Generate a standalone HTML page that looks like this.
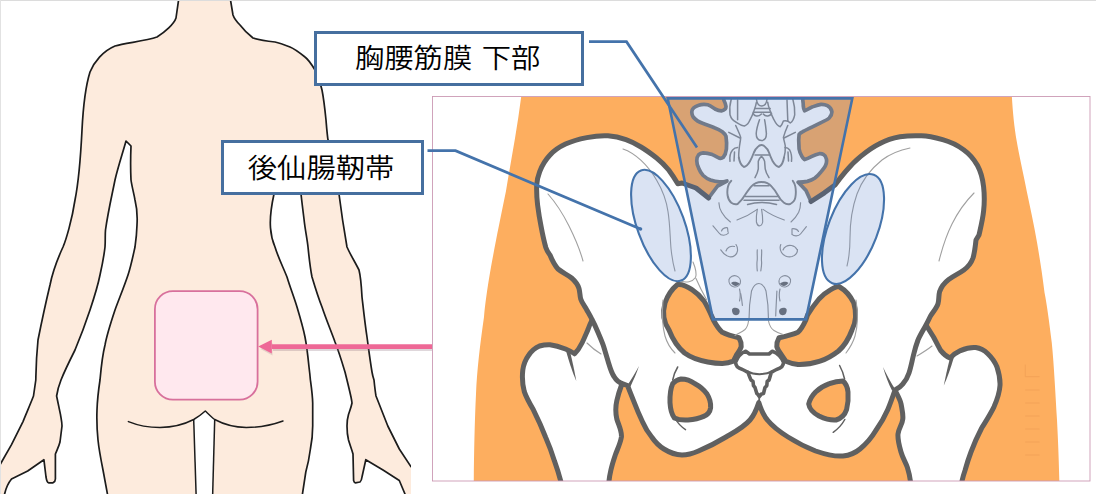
<!DOCTYPE html>
<html lang="ja">
<head>
<meta charset="utf-8">
<title>胸腰筋膜 下部・後仙腸靭帯</title>
<style>
html,body{margin:0;padding:0;background:#fff;}
body{width:1096px;height:494px;overflow:hidden;position:relative;font-family:"Liberation Sans","Noto Sans CJK JP",sans-serif;}
svg{position:absolute;left:0;top:0;display:block;}
.label{position:absolute;box-sizing:border-box;border:3px solid #466f9f;background:#fff;color:#000;font-size:29.3px;line-height:1;white-space:nowrap;}
.label span{position:absolute;display:block;font-weight:350;transform:scaleY(0.92);transform-origin:50% 100%;}
#lab1{left:313.7px;top:31px;width:270.5px;height:54.8px;}
#lab1 span{left:38.3px;top:8.7px;word-spacing:1.5px;}
#lab2{left:220.7px;top:140px;width:203.3px;height:55px;}
#lab2 span{left:24.1px;top:10.3px;}
</style>
</head>
<body>
<svg width="1096" height="494" viewBox="0 0 1096 494">
<defs>
<clipPath id="bodyclip"><rect x="0" y="0" width="411" height="494"/></clipPath>
<clipPath id="frameclip"><rect x="433" y="97" width="657" height="384"/></clipPath>
</defs>

<!-- ============ LEFT: body back view ============ -->
<g id="body" clip-path="url(#bodyclip)">
<path id="silhouette" fill="#fdebdd" stroke="#1c1c1c" stroke-width="1.7" stroke-linejoin="round" d="
M179,-3 L176,18
C174,24 165,32 157,37
C145,41 125,43 115,46
C103,51 94,62 90,72
C85,88 83,110 82,130
C81,150 79,180 75,200
C72,220 66,240 63,247
C57,260 52,275 50,285
C44,310 40,330 38,340
C36,360 36,372 35.8,380
L33.5,396
C30,405 26,414 23,421.6
L11.5,444.7 L1,463 L-3,470
L-3,497 L4,497 L4.6,494
C6,488 9,482 11.5,479
L27.7,471 L43.9,459.7
L46,477 C46.5,480 47.5,482.5 48.5,482.8
L53,482.8 C54.5,482 55.4,480.5 55.4,479
L55.4,454 C57,450 59,446 60,442
L62,426 C62,422 61,418 60.5,414.6
L56.6,396 C57.5,390 59,385 61,380
C65,370 70,360 75,350
C80,338 86,322 90,310
C94,298 98,285 100,275
C102,266 104,256 105,247
C105.5,240 105,235 105.5,230
C108,212 112,195 115,180
C118,167 123,152 126,141
L131,146
C130.5,158 130.5,170 131,180
C132,187 134,194 135,200
C137,208 137.5,217 137,225
C136.8,232 136,240 135,247
C133,256 131,266 128,275
C124,287 119,299 115,310
C111,322 107,334 105,345
C102,357 101,369 100,380
C98.5,390 97.3,400 97,410
C96.6,420 97,430 98,440
C99,450 101,460 103,470
L108,497
L302,497 L305.8,472
C308,464 309.5,456 310.4,449
C312,441 312.7,434 312.7,426
L312.7,403
C312.5,395 311.5,388 310.4,380
C310,375 309.5,371 309,367
C308,357 307,347 305,337
C303,327 300,317 297,307
C294,297 290,287 287,277
C283,267 278,257 275,247
C272,240 271,235 270.5,228
C270,222 270.5,210 274,194
C276,180 277,165 277,150 L282,146 C288,160 296,178 301,194
C302,203 303,211 304,219
C305,229 307,238 308,247
C309,257 310,267 312,277
C315,287 318,297 322,307
C326,319 331,331 335,342
C339,352 342,362 345,372
C347,380 349,388 351,397
C351.8,401 352,403 352,403
C351,408 349.5,411 348.5,414.6
C347.5,418 347,422 347,426
C347,431 347.5,436 348.5,440
C350,445 352,450 353,454
L353.6,480.5 C354,482 354.8,482.8 355.4,482.8
L360,482 C361,481 361.8,479 362,477
L365.8,459.7 L383,470 L399.3,480.5 L405,494 L405,497
L420,497 L420,470 L410.9,466.6
L399.3,449 L387.8,426 L376,396
C375,390 374.5,385 374,380
C373,377 372.5,375 372,372
C370,360 368.5,348 367,337
C365,324 363.5,310 362,297
C361.5,288 361,278 359,270
C355,262 350,254 347,247
C344,230 341,210 339,194
C336,180 332,160 328,140
C327,133 326.5,126 326,120
C325,110 324,100 322,90
C320,82 318,76 315,70
C312,65 309,60 305,57
C300,53 295,49 290,47
C285,45 280,43 275,42
C267,41 260,40 253,38
C248,34 243,29 240,25
C237,22 234,18 233,15
L230,-3 Z"/>
<!-- gluteal folds and leg lines -->
<path fill="#fff" stroke="none" d="M205.3,411 L214.7,419.5 L212.6,497 L196.2,497 L193.7,419.5 Z"/>
<path fill="none" stroke="#1c1c1c" stroke-width="1.5" stroke-linecap="round" stroke-linejoin="round" d="M128.4,421.6 C138,425.5 149,427.5 160,427.5 C172,427.3 184,424.5 193.7,419.5 C198,417 202,414 205.3,411 C208.5,414 211.5,417 214.7,419.5 C224,424.5 235,427.3 246.3,427.5 C259,427.5 272,425 283,421"/>
<path fill="none" stroke="#1c1c1c" stroke-width="1.5" d="M193.7,419.5 L196.2,497"/>
<path fill="none" stroke="#1c1c1c" stroke-width="1.5" d="M214.7,419.5 L212.6,497"/>
<!-- pink square -->
<rect x="154.9" y="291.2" width="102.7" height="108.5" rx="18" ry="18" fill="#ffe8ee" stroke="#d8709c" stroke-width="1.8"/>
</g>

<!-- pink arrow -->
<path d="M432,349 L273,349" stroke="rgba(140,110,125,0.28)" stroke-width="4" fill="none"/>
<path d="M260.5,349 L272.5,343 L272.5,355.5 Z" fill="rgba(140,110,125,0.22)"/>
<path d="M432,346.6 L272,346.6" stroke="#ee6896" stroke-width="4.6" fill="none"/>
<path d="M258.2,346.6 L271.8,339.8 L271.8,353.4 Z" fill="#ee6896"/>

<!-- ============ RIGHT: pelvis frame ============ -->
<rect x="433" y="97" width="657" height="384" fill="#fff"/>
<g id="pelvis" clip-path="url(#frameclip)">
<!-- orange trunk -->
<path id="trunk" fill="#fdae5f" d="M522,90 C518,125 511,160 506,191 C500,220 495,245 491,267 C487,290 485,305 484,317 C480,345 477,370 476,394 C474.5,425 474,455 473.7,490 L1059.5,490 C1059,460 1058,440 1057,420 C1055.5,395 1054,365 1051.8,343 C1049,320 1047,305 1044.5,292.4 C1042,272 1039.5,257 1036.9,241.8 C1034,225 1030,207 1026.7,191 C1023,172 1019,155 1016.6,140.6 C1014,125 1012.5,110 1011.5,90 Z"/>

<!-- femurs -->
<path id="femurL" fill="#fff" stroke="#606060" stroke-width="5" stroke-linejoin="round" d="
M610,340 L592,320 C590.5,323 589,326.5 588,329.5 C586,334 584,339 582,343
C580,347 577.5,351 574.6,353.8
C572,352 569,350.5 565.5,349
C560.5,347 555,345.3 550,344.7
C546.5,344.5 543,345 539.5,346
C535,348 531.5,351 528.8,355
C525.5,359.5 523.5,364.5 522.8,370
C522,377 522.5,385 524.3,391.6
C526.5,398 530,404 533.4,409.8
C538,419 542,428 545.5,437
C549,445 552,453 554.6,461.4
C557,468 559,474.5 560.7,481 L562,495 L609,495 L609,481
C609.3,477.5 610,474 610.8,470.5
C612,465 613.6,460 615.3,455
C617.5,449 620.5,443 621.4,437
C622,431 618.5,425 616.8,419
C615.5,413 615.5,406.5 616.8,400.7
C618,395.5 619.5,390.5 621.4,385.5 L640,370 Z"/>
<path id="femurR" fill="#fff" stroke="#606060" stroke-width="5" stroke-linejoin="round" d="
M905,345 L926,325 C928.5,329 931,333 933.5,337
C936,341.5 938.3,346.5 940.8,350.6
C943.5,354 946.5,356.5 950,358
C953,355 956.5,352.5 960.5,350.6
C965.5,348.5 970.5,347.2 975.7,347.6
C980,348.2 984.5,350.5 987.8,353.7
C991.8,357.5 995,362 997,367
C999,373 1000.3,379 1000,385.5
C999.5,393 997,400 994,406.8
C990.5,414 986,421 981.7,428
C977.5,436 974,444 971,452
C968.7,458 966.7,464.5 965,470.5
C963.8,474 962.8,477.5 962,481 L962,495 L910.4,495 L910.4,481
C909.8,476.5 908.8,472 907.4,467.5
C905.5,462 902.5,457.5 901,452
C899.3,446 897.5,440 898,434
C898.5,428.5 902.3,424.5 902.8,419
C903.3,414 901.8,408.5 901,403.7
C900,399 897,394.5 895,390 L880,372 Z"/>

<!-- hip bones + sacrum + lumbar spine (union) -->
<path id="bonesfill" fill="#fff" stroke="none" d="M723.3,88 L723.8,100
C724.6,101.6 725.5,104 726,106.5
C726,108.5 724.5,110.3 721.4,110.8
C719,110.8 717,110 715,109
C712.5,107.3 710.3,105.5 707.8,104.8
C704.8,104.2 701.5,104.3 698.7,105.3
C695,106.5 692,109 691.8,111.7
C691.7,113.8 692.3,115.5 693.2,117
C695.8,120.3 699.3,122.2 703.2,123.5
C707,125 711,126.3 715,128
C717.7,129 720,130.2 722.3,131.7
C724,133 725.5,134.5 726,136.3
L726.6,143 L726.4,149
C726,152.5 725,155.3 723.3,157.3
C722,158.3 720.8,158.5 719.6,158.2
C717,157 714.7,155.6 712.3,154.6
C709.3,153.5 706.2,152.8 703.2,152.8
C701.3,153 699.8,153.6 698.7,154.6
C697.3,156.3 696.7,158.5 696.8,161
C696.8,163.5 697.6,166 698.7,168.2
C699.8,171 701.3,173.5 703.2,175.5
C705.3,177.5 707.8,179 710.5,180
C713.5,181 716.5,181.7 719.6,181.9
C722,182 724.5,181.6 726.9,181
L717.6,186 L708.6,198
L696,188 L682,183 L677.8,183.7
C675,179 672,174.5 668.7,170
C665,165.5 661,161.5 656.6,158
C651.5,154 646.5,150.3 641,147
C636,144 631,141.5 626,139.7
C620,137.5 614,136.2 608,135.8
C601,135.4 594,136.2 586.8,137.6
C579.5,139 572,141 565.5,144
C559.5,146.8 554,150.5 550,155
C545.5,159.8 542,165.5 539.7,171.6
C538,176 537,180.5 536.7,185
C536.5,191.5 536.8,198.5 537.6,205
C538.5,212 539.6,219 541,226
C542.3,233 543.8,240.5 545.8,247.5
C546.8,250.5 548.3,253 550,255
C552,260 554.5,265 558,269
C562,272.5 567.5,274.5 571.6,278
C575,281 577.8,284.5 579,288.5
C580,292 579.8,295.5 580.7,299
C582,303 584.8,306.3 586.8,310
C588.5,313 590.5,316.3 592,319.5
C594,323.3 595.8,327 597.4,331
C599.5,336 601.8,341 603.5,346
C605,351 606.5,356 608,361
C609.7,366.5 611,372 614,376.5
C616,380 619.3,382.8 623,384
L627.5,385.5
C629.5,390.5 631.5,395.7 633.5,400.7
C636.3,408 639.3,415.2 642.6,422
C645,427.5 648,432.5 651.7,437
C655,441.8 659,446 663.9,449
C669.5,452.5 675.5,454.8 682,455
C687.8,455 693.3,453.3 698.5,451
C708,447 717.3,442.3 726,437
C734.5,432 743.5,427.5 750,420
C754.5,414.8 757,408 758.8,402.6
C760.5,408 763,415 767.4,420
C773,427 780.5,432.3 788,437
C796.8,442.5 806,447.3 815.6,451
C824.3,454 833.8,456.8 843,456
C849.3,455.3 855.3,453 860,449
C866,444 871.5,437.8 875.5,431
C880.3,424.3 884.5,417.3 887.7,409.8
C890.5,403.3 892.8,396.5 895,390
C898,388.5 900.7,386.8 902.8,384
C905.5,381 907.7,377 909,373
C911,367 912,361 913.5,355
C914.7,350 916.2,344.8 918,340
C920.3,334.8 923.3,330 926,325
C927.6,322 929,319 930.5,316
C933,312 936.5,308.3 938,303.7
C939.2,299.8 938.5,295.5 939.6,291.6
C941.3,286.8 944.8,282.5 948.7,279.5
C953.5,276 959,273.5 963.9,270
C968,267 971.3,262.8 973,258
C974.8,252.3 975.3,246 976,240
L979,235
C980.8,227 982.8,219 983.6,211
C984.5,203 984.5,194.8 983.6,186.8
C982.8,179.3 981,172 977.5,165.5
C974,159.3 969.5,154 963.9,150
C957.5,145.3 950.3,141.8 942.6,139.7
C935.8,137.8 928.5,136 921.4,135.8
C914.3,135.5 907,135.7 900,136.7
C892.8,137.9 885.5,140.5 879,144
C872.3,147.3 866.3,151.8 860.7,156.4
C855,161 850,166.3 845.5,171.6
C841.8,176 838.3,180.5 835,185 L824.4,192.8 L811,201.5
L806,190.5 L798.2,182.2
C801,182.3 804.3,182 807.3,181.4
C810,180.7 812.5,179.7 814.6,178.3
C817,176.5 819.2,174.3 821,171.9
C823,169.5 824.7,167.5 825.5,165.5
C826.5,163.3 826.8,161 826.4,159.1
C826,157 825,155.3 823.7,154.6
C822.3,153.8 820.8,153.5 819.2,153.7
C816.7,154.2 814.3,155.2 811.9,156.4
C809.5,157.6 807,158.8 804.6,159.6
C803.3,158.5 802.5,157.5 801.9,156.4
C800.5,154 799.5,151.5 799.1,149
L798.7,140 L799.1,134.4
C800,133.3 801.3,132.5 802.8,131.7
C805.8,130 808.9,128.6 811.9,127.1
C815,125.6 818,124.1 821,122.6
C824,121.3 827,120 829.2,118
C831,116.2 832,114 831.9,111.7
C831.6,109.3 829.8,107 827.4,105.7
C825.5,104.7 823.3,104.3 821,104.4
C818,104.8 815,106 811.9,107.1
C809.5,108.3 807,110 804.6,110.8
C803.8,109.5 803.4,107.8 803.3,106.2
C803.3,104.3 803.1,102.3 802.8,100.3 L802.5,88 Z"/>
<path id="spineLs" fill="none" stroke="#7c7c7c" stroke-width="3.7" stroke-linejoin="round" stroke-linecap="round" d="M723.3,88 L723.8,100
C724.6,101.6 725.5,104 726,106.5
C726,108.5 724.5,110.3 721.4,110.8
C719,110.8 717,110 715,109
C712.5,107.3 710.3,105.5 707.8,104.8
C704.8,104.2 701.5,104.3 698.7,105.3
C695,106.5 692,109 691.8,111.7
C691.7,113.8 692.3,115.5 693.2,117
C695.8,120.3 699.3,122.2 703.2,123.5
C707,125 711,126.3 715,128
C717.7,129 720,130.2 722.3,131.7
C724,133 725.5,134.5 726,136.3
L726.6,143 L726.4,149
C726,152.5 725,155.3 723.3,157.3
C722,158.3 720.8,158.5 719.6,158.2
C717,157 714.7,155.6 712.3,154.6
C709.3,153.5 706.2,152.8 703.2,152.8
C701.3,153 699.8,153.6 698.7,154.6
C697.3,156.3 696.7,158.5 696.8,161
C696.8,163.5 697.6,166 698.7,168.2
C699.8,171 701.3,173.5 703.2,175.5
C705.3,177.5 707.8,179 710.5,180
C713.5,181 716.5,181.7 719.6,181.9
C722,182 724.5,181.6 726.9,181
L717.6,186 L708.6,198"/>
<path id="spineRs" fill="none" stroke="#7c7c7c" stroke-width="3.7" stroke-linejoin="round" stroke-linecap="round" d="M811,201.5 L806,190.5 L798.2,182.2
C801,182.3 804.3,182 807.3,181.4
C810,180.7 812.5,179.7 814.6,178.3
C817,176.5 819.2,174.3 821,171.9
C823,169.5 824.7,167.5 825.5,165.5
C826.5,163.3 826.8,161 826.4,159.1
C826,157 825,155.3 823.7,154.6
C822.3,153.8 820.8,153.5 819.2,153.7
C816.7,154.2 814.3,155.2 811.9,156.4
C809.5,157.6 807,158.8 804.6,159.6
C803.3,158.5 802.5,157.5 801.9,156.4
C800.5,154 799.5,151.5 799.1,149
L798.7,140 L799.1,134.4
C800,133.3 801.3,132.5 802.8,131.7
C805.8,130 808.9,128.6 811.9,127.1
C815,125.6 818,124.1 821,122.6
C824,121.3 827,120 829.2,118
C831,116.2 832,114 831.9,111.7
C831.6,109.3 829.8,107 827.4,105.7
C825.5,104.7 823.3,104.3 821,104.4
C818,104.8 815,106 811.9,107.1
C809.5,108.3 807,110 804.6,110.8
C803.8,109.5 803.4,107.8 803.3,106.2
C803.3,104.3 803.1,102.3 802.8,100.3 L802.5,88"/>
<path id="hipstroke" fill="none" stroke="#606060" stroke-width="5" stroke-linejoin="round" stroke-linecap="round" d="M708.6,198 L696,188 L682,183 L677.8,183.7
C675,179 672,174.5 668.7,170
C665,165.5 661,161.5 656.6,158
C651.5,154 646.5,150.3 641,147
C636,144 631,141.5 626,139.7
C620,137.5 614,136.2 608,135.8
C601,135.4 594,136.2 586.8,137.6
C579.5,139 572,141 565.5,144
C559.5,146.8 554,150.5 550,155
C545.5,159.8 542,165.5 539.7,171.6
C538,176 537,180.5 536.7,185
C536.5,191.5 536.8,198.5 537.6,205
C538.5,212 539.6,219 541,226
C542.3,233 543.8,240.5 545.8,247.5
C546.8,250.5 548.3,253 550,255
C552,260 554.5,265 558,269
C562,272.5 567.5,274.5 571.6,278
C575,281 577.8,284.5 579,288.5
C580,292 579.8,295.5 580.7,299
C582,303 584.8,306.3 586.8,310
C588.5,313 590.5,316.3 592,319.5
C594,323.3 595.8,327 597.4,331
C599.5,336 601.8,341 603.5,346
C605,351 606.5,356 608,361
C609.7,366.5 611,372 614,376.5
C616,380 619.3,382.8 623,384
L627.5,385.5
C629.5,390.5 631.5,395.7 633.5,400.7
C636.3,408 639.3,415.2 642.6,422
C645,427.5 648,432.5 651.7,437
C655,441.8 659,446 663.9,449
C669.5,452.5 675.5,454.8 682,455
C687.8,455 693.3,453.3 698.5,451
C708,447 717.3,442.3 726,437
C734.5,432 743.5,427.5 750,420
C754.5,414.8 757,408 758.8,402.6
C760.5,408 763,415 767.4,420
C773,427 780.5,432.3 788,437
C796.8,442.5 806,447.3 815.6,451
C824.3,454 833.8,456.8 843,456
C849.3,455.3 855.3,453 860,449
C866,444 871.5,437.8 875.5,431
C880.3,424.3 884.5,417.3 887.7,409.8
C890.5,403.3 892.8,396.5 895,390
C898,388.5 900.7,386.8 902.8,384
C905.5,381 907.7,377 909,373
C911,367 912,361 913.5,355
C914.7,350 916.2,344.8 918,340
C920.3,334.8 923.3,330 926,325
C927.6,322 929,319 930.5,316
C933,312 936.5,308.3 938,303.7
C939.2,299.8 938.5,295.5 939.6,291.6
C941.3,286.8 944.8,282.5 948.7,279.5
C953.5,276 959,273.5 963.9,270
C968,267 971.3,262.8 973,258
C974.8,252.3 975.3,246 976,240
L979,235
C980.8,227 982.8,219 983.6,211
C984.5,203 984.5,194.8 983.6,186.8
C982.8,179.3 981,172 977.5,165.5
C974,159.3 969.5,154 963.9,150
C957.5,145.3 950.3,141.8 942.6,139.7
C935.8,137.8 928.5,136 921.4,135.8
C914.3,135.5 907,135.7 900,136.7
C892.8,137.9 885.5,140.5 879,144
C872.3,147.3 866.3,151.8 860.7,156.4
C855,161 850,166.3 845.5,171.6
C841.8,176 838.3,180.5 835,185 L824.4,192.8 L811,201.5"/>

<!-- pelvic inlet / sciatic openings showing orange -->
<path id="holeL" fill="#fdae5f" stroke="#606060" stroke-width="5" stroke-linejoin="round" d="
M677.5,284.5
C672,289 667.5,295.5 665,303
C662.5,312 663.5,322 669,330
C672.5,339 678,347.5 684.6,353
C691.5,358 699.5,360.5 707.7,362
C713,363 718,363.5 722.3,363.5
C726,363.3 730,362.5 733.4,361.2
L736.7,354.5
C738.5,352 740.5,349.5 741.2,346.7
C741.5,343.5 740.5,340.5 739,337.8
C733.5,336.5 727.5,335 722.3,332.3
C718.5,329 715.8,324.5 713.4,320
C710.5,313.5 707.5,306.5 704,301
C700.5,296.5 696.5,292.5 692,289.6
C687.5,286.5 682,283.8 677.5,284.5 Z"/>
<path id="holeR" fill="#fdae5f" stroke="#606060" stroke-width="5" stroke-linejoin="round" d="
M839,286.5
C845,290 850.5,296 853.8,303
C856.5,312 856,322 852,330
C849,338 844.5,345.8 838.5,351
C831.5,356.5 825,359.5 820,361.2
C813,363.5 805,364.8 798,364.6
C793.5,364 789.5,362.8 785.7,361.2
L781.3,354.5
C779.3,352 777.5,349.5 776.8,346.7
C776.5,343.5 777.5,340.5 779,337.8
C785,336.5 792,335 798,332.3
C801.5,329 803.8,324.5 805.8,320
C806.5,318.3 807,316.3 807.7,314.6
C811,309.3 814.8,304 819,299
C822.5,295.3 826.5,292 830.8,289.6
C833.5,288 836.5,286.3 839,286.5 Z"/>
<!-- obturator foramina -->
<path id="obtL" fill="#fdae5f" stroke="#606060" stroke-width="5" stroke-linejoin="round" d="
M672.7,383.7 C675,381 678,379.5 681,379 C686,379 691,380.8 695,383.7
C700,386.3 704,389.8 707,394 C709.5,398 711,403 710.6,407.8
C710,411.8 707.5,414.8 703.7,416.4 C698.8,418.5 693.3,419.5 688,420
C683.5,420.3 678.5,420 674.4,418 C671.5,414 670.3,408.3 670,402.6
C669.8,396 670.3,389 672.7,383.7 Z"/>
<path id="obtR" fill="#fdae5f" stroke="#606060" stroke-width="5" stroke-linejoin="round" d="
M808.7,404 C809.8,399.5 812.3,395.3 815.6,392 C819.5,388.3 824.3,385.5 829.4,383.7
C833.8,382 838.5,381 843,381 C846,383.5 847.5,387.5 848,392
C848.5,398 848,404 846.6,409.5 C845,414.5 841,418.5 836,420
C830.3,420.5 824.3,418.5 819,416 C814.3,413.5 809.5,409.5 808.7,404 Z"/>

<!-- coccyx -->
<path id="coccyx" fill="#fff" stroke="#606060" stroke-width="3.6" stroke-linejoin="round" d="
M745.7,351.2 L749.5,354 L769,354 L772.4,351.2
C776,352.5 781,356 783.5,362.3
C783.5,366 780.5,368.5 776.5,369.5
C774.5,370.5 772.8,371.5 771.3,372.4
C770.5,375 769.8,378 769,380
L767.2,381.5 L766.8,385.7 L765,387.5 L763.5,393.5 L761.5,394 L759.3,396.5
L757.5,394 L756.8,393.5 L755,387.5 L753.5,385.7 L753,381.5 L751,380
C750,378 749,375 747.9,372.4
C746.3,371.5 744.5,370.5 742.5,369.5
C738.5,368.5 735.6,366 735.6,362.3
C738,356 742.5,352.5 745.7,351.2 Z"/>
<path fill="none" stroke="#606060" stroke-width="2" stroke-linecap="round" d="M747.5,371.5 C754,375 765,375 771.8,371.5"/>
<path fill="none" stroke="#606060" stroke-width="1.8" d="M759.3,397 L759,404"/>

<!-- tapered dark accent lines -->
<g fill="#606060" stroke="none">
<path d="M565.8,350 L570.3,352.6 C572.6,362 574.6,372 576.3,381 C572.3,372 568.8,361 565.8,350 Z"/>
<path d="M954,357 L949.6,359.6 C947.4,368 945.5,377 943.8,385.5 C947.8,377 951,367 954,357 Z"/>
<path d="M626.5,386.5 L630.5,386.5 C633.5,380 636.5,373.5 639,366 C635.5,372.5 631,380 626.5,386.5 Z"/>
<path d="M896,390.5 L892,390.5 C888.5,383.5 885.5,376 883,367 C886.5,374.5 891,383 896,390.5 Z"/>
</g>
<g fill="none" stroke="#606060" stroke-width="1.5" stroke-linecap="round">
<path d="M672.7,380 C673.5,375.5 675.3,371 677.7,367"/>
<path d="M675.5,419 C678,423.5 681.5,427 685.5,429.6"/>
<path d="M844.6,379 C843.6,374 841.8,369.5 839.6,365.5"/>
<path d="M844.8,419.5 C842,424.5 838,429 833.2,432.3"/>
</g>
<!-- thin detail lines on bones -->
<g fill="none" stroke="#a0a0a0" stroke-width="1.1" stroke-linecap="round">
<path d="M623,149 C635,153 648,165 656.8,180.5 C663,191 666.5,201 668,211.7 C670,224 670,237 671,248.5 C671.8,256 673,264 675,271"/>
<path d="M681,281 C686,283 692.5,282 695.5,277.5 C697,273.5 695.5,268 693,262 M696,278.5 C699,285.5 702.5,292.5 706.5,299.5"/>
<path d="M548,194 C556,203 563,214 569,226 C575,238 580,250 583,261"/>
<path d="M587,343 C591,347 596,351 601,354"/>
<path d="M663,300 C662,312 662,325 665,336 C667,343 671,349 675,353"/>
<path d="M748.5,321 C748,325 747,327.5 745,329.5 C742,332 738,333.5 735,335.5 M768.5,321 C769.5,326 771,328.5 774,330.5 C777,332.5 780,333.5 783,334.5"/>
<path d="M910,148 C900,150 890,154 882,160 C872,168 862,180 857,194 C852,208 850,224 850,238 C850,248 849,258 847,266"/>
<path d="M974,193 C966,201 958,212 952,224 C946,236 942,249 939,261"/>
<path d="M917,356 C922,353 927,350 932,346"/>
<path d="M856,300 C858,312 858,325 855,336 C853,343 849,349 846,353"/>
</g>

<!-- sacrum / lumbar detail lines -->
<g id="spinedetail" fill="none" stroke="#8c8c8c" stroke-width="1.5" stroke-linecap="round" stroke-linejoin="round">
<!-- L4 inferior articular lobes -->
<path d="M731.3,99 C729.5,105 729.5,110 730,114.8 C731,118.5 733.5,121 736.3,122.3 C739,124 742,126 744.5,126 C747,125 749,122.5 750,119.8 C751.5,117 753,114 753.9,111 C755,108 756,105 756.4,102.3"/>
<path d="M737.6,100 L737.6,119.8"/>
<path d="M792.8,99 C794.5,105 795,110 794.7,114.8 C794,118.5 792.5,121.5 790.3,123 C788.5,121 786,120.5 783.4,121 C782.5,123.5 781.5,125.5 780.2,126.7 C777.5,126 775.5,123 774,119.8 C772.5,117 771.2,114 770.2,111 C769,108 768,105 767.7,102.3"/>
<path d="M787,100 L787.8,121"/>
<path d="M756.4,99 C757,104 759,106 761.7,106 C764.5,106 766.5,104 767,99"/>
<path d="M754.9,108.5 L770.2,108.5 M753.3,112.3 L770.8,112.3"/>
<path d="M753.3,113.5 C754,116 758,117.5 761.4,114 M763.3,114 C766,117.5 770,116 771.5,113.5"/>
<!-- L4 spinous process -->
<path d="M759.5,119.8 C758,124 756.5,129 756.2,133.6 C756.2,137.5 758,140.5 761.4,140.5 C764.8,140.5 766.4,137.5 766.4,133.6 C766,129 765.5,124 764.6,119.8"/>
<!-- lamina lines -->
<path d="M735.7,125.5 C737.5,129.5 739.5,133.5 740.7,137.4 C740.5,140.5 740,143 739.5,146 C739,150 738.5,154 738.8,157.5"/>
<path d="M787.8,125.5 C786,129.5 784.5,133.5 783.4,137.4 C784,140.5 784.8,143 785.3,146 C785.5,150 785,154 784,157.5"/>
<path d="M728.8,132.4 L740,138 M795.3,132.4 L784,138"/>
<!-- L4 lower lobes + arch -->
<path stroke-width="1.9" d="M738.8,157.5 C739.5,162 741.5,165.5 743.9,167 C746.5,166.5 748.5,164 750,161.3 C751.5,158.5 752.8,155.5 753.9,152.5 C755,150 756.3,148 757.7,147 C759,145.5 760.3,145 761.4,145 C762.6,145 764,145.5 765.2,147 C766.7,148 768,150 769,152.5 C770,155.5 771.3,158.5 772.7,161.3 C774.3,164 776.5,166.5 779,167 C781.5,165.5 783.3,162 784,157.5"/>
<path d="M755,155 L769,155"/>
<!-- L5 spinous -->
<path d="M761.4,156.3 C759.8,157.5 758.8,159.5 758.3,161.3 L758.3,168.8 C757.8,172 756.5,175 755,177.6 M761.4,156.3 C763,157.5 764,159.5 764.6,161.3 L765.2,168.8 C765.8,172 767.3,175 769,177.6"/>
<!-- L5 superior articular ears -->
<path d="M730,161.3 C729.5,157 730.5,152.5 732.6,150 C734,148.3 736,147.5 737.6,147.5 M734.5,152 L734,161"/>
<path d="M791.5,161.3 C792,157 791,152.5 789.7,150 C788.5,148.3 786.5,147.5 785,147.5 M788,152 L788.5,161"/>
<!-- L5 lower outline (M shape) -->
<path stroke-width="1.9" d="M731.3,180.8 C729.5,182.5 728.5,184.5 728,186.4 C727.3,189 727.2,192 727.5,195 C728,198.5 729.3,201 731.3,202.7 C733,204 735.5,204.5 737.6,204 C740.5,201.5 743,198.5 745,195 C747,192 749,189 751.4,186.4 C754,183.5 757.5,182 761.4,182 C765.3,182 769,183.5 771.5,186.4 C774,189 776,192 777.7,195 C779.5,198.5 781.5,201 784,202.7 C786,204.3 788.5,204.5 790.3,204 C793,202.5 794.8,200.5 795.3,197.7 C796,194 796,190 795.3,186.4 C794.8,184.3 794,182.3 792.8,180.8"/>
<path d="M754,185.8 L769,185.8 M745.5,196.4 L777.5,196.4 M744,200.2 L779,200.2 M747.6,204.5 C756,202 767,202 776.5,204.5"/>
</g>
<g id="sacrumdetail" fill="none" stroke="#969696" stroke-width="1.15" stroke-linecap="round" stroke-linejoin="round">
<!-- sacrum upper -->
<path d="M718.9,202.7 C719,206 720,209.5 721.7,212.3 C724,216.5 727,219.5 730.4,222"/>
<path d="M800.6,202.7 C800.5,206 800,209.5 798.7,212.3 C796.5,216.5 794,219.5 791,222"/>
<path d="M737,220 C744,217.5 751,214 757.3,209.4 M784.3,220 C777,217.5 769.5,214 763,209.4"/>
<path d="M757.3,209.4 C756.5,213.5 756.2,218 756.4,222 C757,224.5 758,225.8 759.3,225.8 C761,225.8 762.2,224.5 762.7,222 C762.7,218 762.3,213.5 761.6,209.4"/>
<!-- sacral foramina 1 -->
<path d="M713,225.8 L719,233 C721,236 726,236 728.5,233 M721.5,231 C722.5,228.5 725,227.5 727.5,227.7 L728,232"/>
<path d="M806.4,226.7 L800.5,234 C798.5,236.5 794,236.5 792,234.4 M798.5,231.5 C797.5,229.5 795,228.5 792,228.7 L792,234.4"/>
<!-- foramina 2 -->
<path d="M720.8,249.8 C723,253 726,256 729.5,256.8 C733.5,257.5 737,254.5 737.5,250.8 C737.8,248 737,246 736,244.5 M726,251 C727,247.5 731,245.5 734.5,246.5"/>
<path d="M780.8,244.5 C779.8,247 780,250 781.5,252.5 C783.5,256 788,257.5 792,256.5 C795.5,255.5 797.5,252.5 797.5,249.5 M783,250 C784,246.5 788,244.8 791.5,245.5 C794,246 796,247.5 797,249.5"/>
<!-- median crest -->
<path d="M757.3,249.8 C756.8,254 757.8,258 757,262 C756.8,265 757,268 757.3,271 M761.6,249.8 C762,254 761,258 761.6,262 C761.8,265 761.3,268 760.8,271"/>
<!-- foramina 3 -->
<path d="M729,279.5 C730,276.5 733.5,275 736.5,276 C739.5,277 741,280 740.3,283 C739.5,286 736.5,287.5 733.5,286.8 C730.5,286 728.5,283 729,279.5 Z"/>
<path d="M790.5,279.5 C789.5,276.5 786,275 783,276 C780,277 778.5,280 779.2,283 C780,286 783,287.5 786,286.8 C789,286 791,283 790.5,279.5 Z"/>
<path d="M739.5,289 C740.5,293 740.5,297 739.5,301 M780,289 C779,293 779,297 780,301"/>
<!-- sacral hiatus arch -->
<path d="M749,320 C749,310 750,299 751.5,291 C753.5,285.5 756,283.5 758.8,283.5 C761.5,283.5 764,285.5 766,291 C767.5,299 768.5,310 768.5,320"/>
<path d="M740.7,293.5 C741.5,297.5 742,301.5 742.4,305.4 M776.9,291 C776.5,299 776,308 775.7,316"/>
</g>
<g fill="#707070" stroke="none">
<path d="M731,283 C733,281 737,281.5 739.5,283.5 C738,286 734.5,287.5 731,283 Z"/>
<path d="M788.5,283 C786.5,281 782.5,281.5 780,283.5 C781.5,286 785,287.5 788.5,283 Z"/>
<path d="M732.2,309 C733.5,307.3 736.5,307.5 738.5,308.8 C740.2,310.3 740,313 738.3,314.5 C736.3,315.8 733.8,315.2 732.8,313.5 C732,312 731.8,310.3 732.2,309 Z"/>
<path d="M786.5,309 C785.2,307.3 782.2,307.5 780.2,308.8 C778.5,310.3 778.7,313 780.4,314.5 C782.4,315.8 784.9,315.2 785.9,313.5 C786.7,312 786.9,310.3 786.5,309 Z"/>
</g>

<!-- faint artifact ticks -->
<g fill="none" stroke="#f2a257" stroke-width="0.9">
<path d="M1025.3,364.6 L1025.3,376.7 L1039.6,376.7 M1025.3,390 L1039.6,390 M1025.3,403 L1039.6,403 M1025.3,416 L1039.6,416 M1025.3,429 L1039.6,429 M1025.3,442 L1039.6,442 M1025.3,455 L1039.6,455"/>
</g>

<!-- overlays -->
<path id="trap" d="M667.7,98.4 L852.3,98.4 L805.9,319.4 L713,319.4 Z" fill="rgba(68,114,196,0.2)" stroke="#4473ab" stroke-width="2.6" stroke-linejoin="miter"/>
<ellipse cx="661" cy="225.5" rx="23.6" ry="58.6" transform="rotate(-20 661 225.5)" fill="rgba(68,114,196,0.2)" stroke="#4473ab" stroke-width="2.1"/>
<ellipse cx="853" cy="229" rx="24.7" ry="58" transform="rotate(21 853 229)" fill="rgba(68,114,196,0.2)" stroke="#4473ab" stroke-width="2.1"/>
</g>
<rect x="432.5" y="96.5" width="657.5" height="384.5" fill="none" stroke="#cc9ab4" stroke-width="0.9"/>

<!-- leader lines -->
<path d="M589,41.7 L626.5,41.7 L697,147.5" fill="none" stroke="#4473ab" stroke-width="2.7" stroke-linejoin="miter"/>
<path d="M427.5,150.7 L455.5,150.7 L640.5,229" fill="none" stroke="#4473ab" stroke-width="2.7" stroke-linejoin="miter"/>
<circle cx="640.5" cy="229" r="1.8" fill="#4473ab"/>
<path d="M0,0.5 L1096,0.5" stroke="#dcdcdc" stroke-width="1" fill="none"/>
<path d="M0.5,0 L0.5,494" stroke="#e2e2e2" stroke-width="1" fill="none"/>
</svg>

<div class="label" id="lab1"><span>胸腰筋膜 下部</span></div>
<div class="label" id="lab2"><span>後仙腸靭帯</span></div>
</body>
</html>
